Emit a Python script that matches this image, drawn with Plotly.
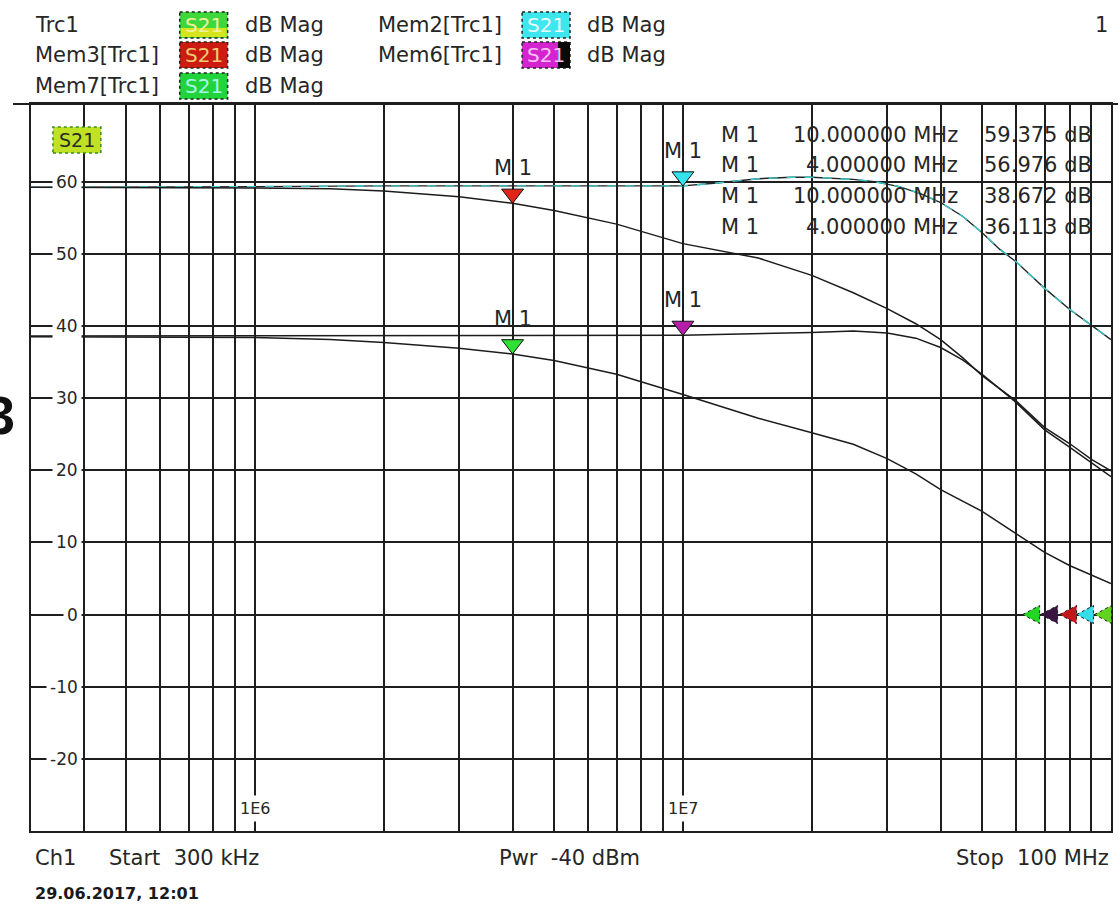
import math
import plotly.graph_objects as go

# ---------------- data ----------------
# frequencies in MHz, S21 in dB
f_mem2 = [0.3, 0.5, 1, 2, 3, 4, 6, 8, 10, 12, 15, 18, 20, 25, 28, 32, 36, 40, 45, 50, 55, 60, 70, 80, 90, 100]
s21_mem2 = [59.2, 59.2, 59.3, 59.4, 59.4, 59.3, 59.3, 59.3, 59.4, 59.8, 60.4, 60.6, 60.6, 60.3, 60.0, 59.3, 58.3, 57.1, 55.2, 52.9, 50.6, 48.9, 45.2, 42.3, 40.1, 38.1]

f_mem3 = [0.3, 0.5, 1, 1.5, 2, 3, 4, 5, 7, 10, 15, 20, 25, 30, 35, 40, 45, 50, 60, 70, 80, 90, 100]
s21_mem3 = [59.2, 59.2, 59.1, 59.0, 58.7, 57.9, 57.0, 56.0, 54.1, 51.4, 49.4, 47.0, 44.6, 42.4, 40.3, 38.1, 35.6, 33.1, 29.6, 25.9, 23.7, 21.5, 19.9]

f_mem6 = [0.3, 0.5, 1, 2, 3, 4, 6, 8, 10, 12, 15, 20, 25, 30, 35, 40, 45, 50, 60, 70, 80, 90, 100]
s21_mem6 = [38.6, 38.6, 38.6, 38.6, 38.6, 38.6, 38.7, 38.7, 38.7, 38.8, 38.9, 39.1, 39.3, 39.0, 38.3, 37.0, 35.3, 33.3, 29.4, 25.6, 23.2, 21.0, 19.1]

f_mem7 = [0.3, 0.5, 1, 1.5, 2, 3, 4, 5, 7, 10, 15, 20, 25, 30, 35, 40, 45, 50, 60, 70, 80, 90, 100]
s21_mem7 = [38.5, 38.5, 38.4, 38.1, 37.7, 36.9, 36.1, 35.2, 33.3, 30.5, 27.2, 25.2, 23.6, 21.6, 19.5, 17.3, 15.7, 14.3, 11.2, 8.6, 6.8, 5.5, 4.3]

# marker table
marker_names = ["M 1", "M 1", "M 1", "M 1"]
marker_freq_mhz = [10, 4, 10, 4]
marker_freq_text = ["10.000000 MHz", "4.000000 MHz", "10.000000 MHz", "4.000000 MHz"]
marker_db = [59.375, 56.976, 38.672, 36.113]
marker_colors = ["#35e3ec", "#e2231a", "#b51fa8", "#2fe035"]

# axis ticks
y_tick_vals = [60, 50, 40, 30, 20, 10, 0, -10, -20]
y_tick_text = ["60", "50", "40", "30", "20", "10", "0", "-10", "-20"]
x_label_vals = [1e6, 1e7]
x_label_text = ["1E6", "1E7"]

# header / legend
header_names = ["Trc1", "Mem3[Trc1]", "Mem7[Trc1]", "Mem2[Trc1]", "Mem6[Trc1]"]
header_fmt = ["dB Mag"] * 5
ref_colors = ["#22d622", "#3a1542", "#c4161b", "#33dde9", "#62d420"]  # Mem7, Mem6, Mem3, Mem2, Trc1

# ---------------- layout geometry ----------------
W, H = 1120, 906
L, R, T, B = 31, 7, 104, 75
PW, PH = W - L - R, H - T - B
YMIN, YMAX = -30, 70.75
PX_PER_DB = PH / (YMAX - YMIN)
XMIN, XMAX = math.log10(3e5), 8.0


def px(x):
    return (x - L) / PW


def py(y):
    return 1 - (y - T) / PH


FONT = "DejaVu Sans"
TXT = "#262626"
GRID = "#1e1e1e"

fig = go.Figure()

# traces
fig.add_trace(go.Scatter(x=[f * 1e6 for f in f_mem2], y=s21_mem2, mode="lines",
                         line=dict(color="#1c2626", width=1.4), name="Mem2[Trc1]"))
fig.add_trace(go.Scatter(x=[f * 1e6 for f in f_mem2], y=s21_mem2, mode="lines",
                         line=dict(color="#3cc9c9", width=1.4, dash="dash"), name="Mem2 dash"))
fig.add_trace(go.Scatter(x=[f * 1e6 for f in f_mem3], y=s21_mem3, mode="lines",
                         line=dict(color="#1c1c1c", width=1.5), name="Mem3[Trc1]"))
fig.add_trace(go.Scatter(x=[f * 1e6 for f in f_mem6], y=s21_mem6, mode="lines",
                         line=dict(color="#1c1c1c", width=1.5), name="Mem6[Trc1]"))
fig.add_trace(go.Scatter(x=[f * 1e6 for f in f_mem7], y=s21_mem7, mode="lines",
                         line=dict(color="#1c1c1c", width=1.5), name="Mem7[Trc1]"))

# marker triangles (tip on the value)
MSIZE = 19
off = (MSIZE / 2) / PX_PER_DB
fig.add_trace(go.Scatter(
    x=[f * 1e6 for f in marker_freq_mhz], y=[v + off for v in marker_db], mode="markers",
    marker=dict(symbol="triangle-down", size=MSIZE, color=marker_colors,
                line=dict(color="#111111", width=1)),
    name="markers"))

annotations = []
shapes = []

# marker labels above triangles
for name, f, v in zip(marker_names, marker_freq_mhz, marker_db):
    annotations.append(dict(x=math.log10(f * 1e6), y=v, xref="x", yref="y", text=name,
                            showarrow=False, yshift=35, xanchor="center", yanchor="middle",
                            font=dict(family=FONT, size=21, color=TXT)))

# marker table
row_y = [135, 165, 196, 227]
for i in range(4):
    annotations.append(dict(x=px(720), y=py(row_y[i]), xref="paper", yref="paper", text=marker_names[i],
                            showarrow=False, xanchor="left", yanchor="middle",
                            font=dict(family=FONT, size=21, color=TXT)))
    annotations.append(dict(x=px(962), y=py(row_y[i]), xref="paper", yref="paper", text=marker_freq_text[i],
                            showarrow=False, xanchor="right", yanchor="middle",
                            font=dict(family=FONT, size=21, color=TXT)))
    annotations.append(dict(x=px(984), y=py(row_y[i]), xref="paper", yref="paper",
                            text=f"{marker_db[i]:.3f} dB",
                            showarrow=False, xanchor="left", yanchor="middle",
                            font=dict(family=FONT, size=21, color=TXT)))

# y tick labels (white background interrupts grid line)
for v, t in zip(y_tick_vals, y_tick_text):
    annotations.append(dict(x=px(82), y=v, xref="paper", yref="y", text=t, showarrow=False,
                            xanchor="right", yanchor="middle", bgcolor="white", borderpad=3,
                            font=dict(family=FONT, size=17, color=TXT)))

# x labels 1E6 / 1E7
for v, t in zip(x_label_vals, x_label_text):
    annotations.append(dict(x=math.log10(v), y=py(808), xref="x", yref="paper", text=t, showarrow=False,
                            xanchor="center", yanchor="middle", bgcolor="white", borderpad=3,
                            font=dict(family=FONT, size=16, color=TXT)))

# header legend
hdr_pos = [(33, 25), (33, 55), (33, 86), (377, 25), (377, 55)]
box_x = [180, 180, 180, 523, 523]
box_fill = ["#3ed83a", "#cc1c12", "#22d43c", "#3ee6ee", "#d424d0"]
box_text = ["#f4f0a0", "#f0cc70", "#a8f8e8", "#eaffff", "#ffc0ff"]
for i, name in enumerate(header_names):
    x0, yc = hdr_pos[i]
    annotations.append(dict(x=px(x0), y=py(yc), xref="paper", yref="paper", text=name, showarrow=False,
                            xanchor="left", yanchor="middle", font=dict(family=FONT, size=21, color=TXT)))
    bx = box_x[i]
    shapes.append(dict(type="rect", xref="paper", yref="paper", x0=px(bx), x1=px(bx + 48),
                       y0=py(yc - 13), y1=py(yc + 13), fillcolor=box_fill[i],
                       line=dict(color="#202020", width=1.5, dash="dot"), layer="above"))
    if i == 0:
        shapes.append(dict(type="rect", xref="paper", yref="paper", x0=px(bx + 1), x1=px(bx + 47),
                           y0=py(yc + 12), y1=py(yc + 3), fillcolor="#d6e41e",
                           line=dict(width=0), layer="above"))
    if i == 4:
        shapes.append(dict(type="rect", xref="paper", yref="paper", x0=px(bx + 36), x1=px(bx + 48),
                           y0=py(yc - 13), y1=py(yc + 13), fillcolor="#0a0a0a",
                           line=dict(width=0), layer="above"))
    annotations.append(dict(x=px(bx + 24), y=py(yc), xref="paper", yref="paper", text="S21", showarrow=False,
                            xanchor="center", yanchor="middle", font=dict(family=FONT, size=20, color=box_text[i])))
    annotations.append(dict(x=px(bx + 63), y=py(yc), xref="paper", yref="paper", text=header_fmt[i],
                            showarrow=False, xanchor="left", yanchor="middle",
                            font=dict(family=FONT, size=21, color=TXT)))

annotations.append(dict(x=px(1112), y=py(25), xref="paper", yref="paper", text="1", showarrow=False,
                        xanchor="right", yanchor="middle", font=dict(family=FONT, size=21, color=TXT)))

# in-plot S21 tag
shapes.append(dict(type="rect", xref="paper", yref="paper", x0=px(53), x1=px(101), y0=py(153), y1=py(127),
                   fillcolor="#bfe224", line=dict(color="#3a8a20", width=1.5, dash="dot"), layer="above"))
annotations.append(dict(x=px(77), y=py(140), xref="paper", yref="paper", text="S21", showarrow=False,
                        xanchor="center", yanchor="middle", font=dict(family=FONT, size=19, color="#2a2a2a")))

# reference-position triangles at 0 dB (right edge)
ref_cx = [1033, 1051, 1070, 1087, 1105]
y0px = T + (YMAX - 0) * PX_PER_DB
for cx, col in zip(ref_cx, ref_colors):
    path = (f"M {px(cx - 8.5)},{py(y0px)} L {px(cx + 8.5)},{py(y0px - 9)} "
            f"L {px(cx + 8.5)},{py(y0px + 9)} Z")
    shapes.append(dict(type="path", xref="paper", yref="paper", path=path, fillcolor=col,
                       line=dict(color="#1a1a1a", width=1, dash="dot"), layer="above"))

# header separator line (extends past plot)
shapes.append(dict(type="line", xref="paper", yref="paper", x0=px(13), x1=px(1120), y0=1, y1=1,
                   line=dict(color=GRID, width=2)))

# bottom status texts
annotations += [
    dict(x=px(33), y=py(858), xref="paper", yref="paper", text="Ch1", showarrow=False, xanchor="left",
         yanchor="middle", font=dict(family=FONT, size=21, color=TXT)),
    dict(x=px(107), y=py(858), xref="paper", yref="paper", text="Start  300 kHz", showarrow=False,
         xanchor="left", yanchor="middle", font=dict(family=FONT, size=21, color=TXT)),
    dict(x=px(570), y=py(858), xref="paper", yref="paper", text="Pwr  -40 dBm", showarrow=False,
         xanchor="center", yanchor="middle", font=dict(family=FONT, size=21, color=TXT)),
    dict(x=px(1113), y=py(858), xref="paper", yref="paper", text="Stop  100 MHz", showarrow=False,
         xanchor="right", yanchor="middle", font=dict(family=FONT, size=21, color=TXT)),
    dict(x=px(33), y=py(893), xref="paper", yref="paper", text="<b>29.06.2017, 12:01</b>", showarrow=False,
         xanchor="left", yanchor="middle", font=dict(family=FONT, size=16, color="#1a1a1a")),
    dict(x=px(0), y=py(415), xref="paper", yref="paper", text="<b>3</b>", showarrow=False,
         xanchor="center", yanchor="middle", font=dict(family="Liberation Sans", size=54, color="#111111")),
]

# grid positions: every integer multiple within the sweep
x_grid = []
for e in range(5, 9):
    for k in range(1, 10):
        v = k * 10 ** e
        if 3e5 < v <= 1e8:
            x_grid.append(v)

fig.update_layout(
    width=W, height=H,
    margin=dict(l=L, r=R, t=T, b=B, pad=0),
    paper_bgcolor="white", plot_bgcolor="white",
    showlegend=False,
    annotations=annotations,
    shapes=shapes,
    xaxis=dict(type="log", range=[XMIN, XMAX], tickvals=x_grid, showticklabels=False, ticks="",
               showgrid=True, gridcolor=GRID, gridwidth=2, zeroline=False,
               showline=True, linecolor=GRID, linewidth=2, mirror=True),
    yaxis=dict(range=[YMIN, YMAX], tickvals=y_tick_vals, showticklabels=False, ticks="",
               showgrid=True, gridcolor=GRID, gridwidth=2, zeroline=False,
               showline=True, linecolor=GRID, linewidth=2, mirror=True),
)

fig.write_html("out.html")
